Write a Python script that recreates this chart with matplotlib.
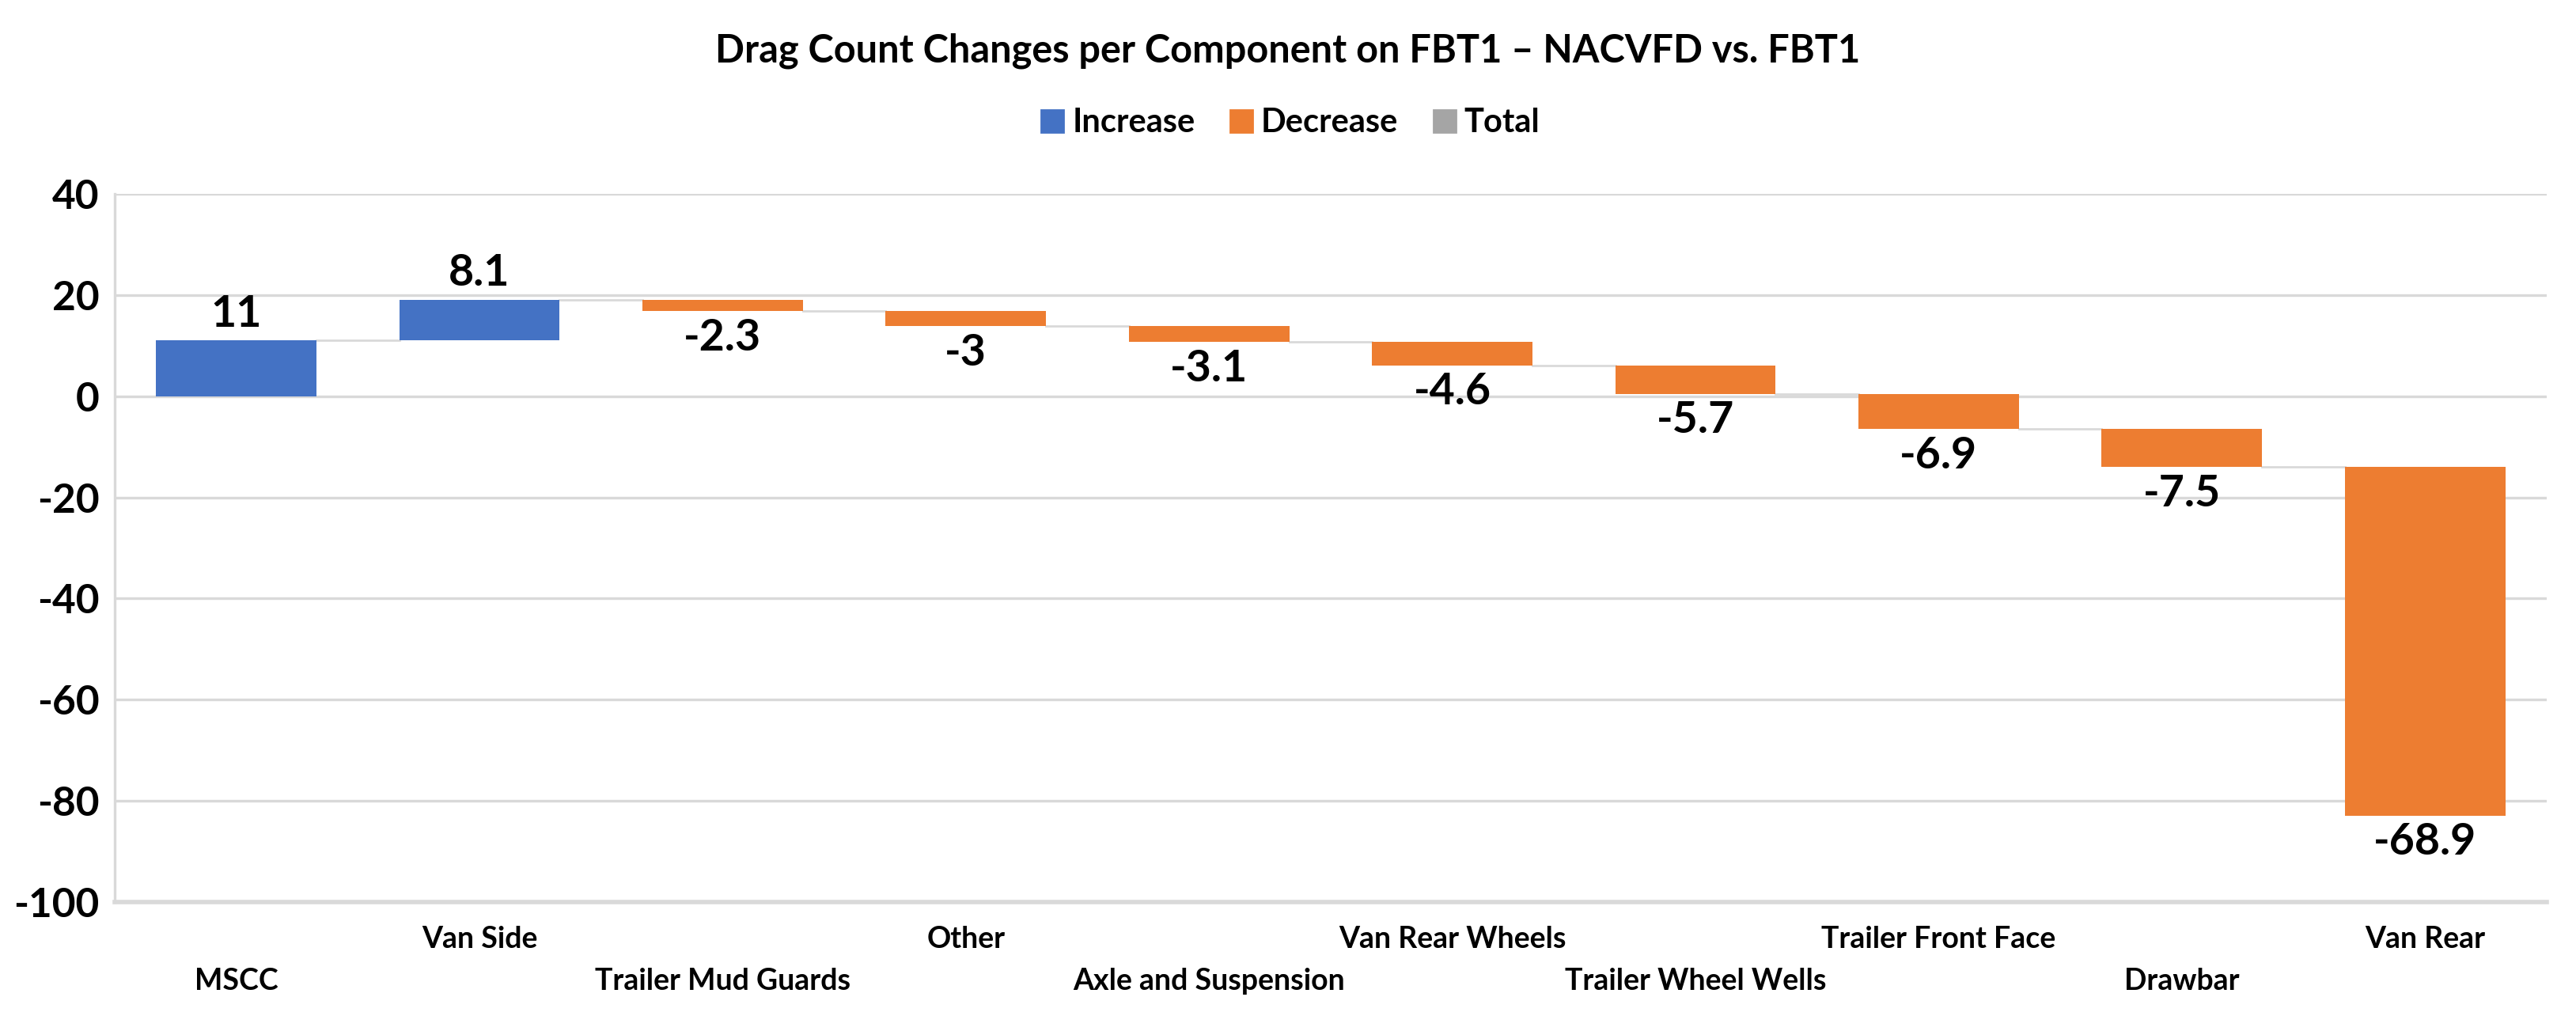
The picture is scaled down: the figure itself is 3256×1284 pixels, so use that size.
import numpy as np
import matplotlib.pyplot as plt
from matplotlib.lines import Line2D
from matplotlib.transforms import blended_transform_factory

categories = ['MSCC', 'Van Side', 'Trailer Mud Guards', 'Other', 'Axle and Suspension',
              'Van Rear Wheels', 'Trailer Wheel Wells', 'Trailer Front Face', 'Drawbar', 'Van Rear']
changes = [11, 8.1, -2.3, -3, -3.1, -4.6, -5.7, -6.9, -7.5, -68.9]
labels = ['11', '8.1', '-2.3', '-3', '-3.1', '-4.6', '-5.7', '-6.9', '-7.5', '-68.9']
yticks = [40, 20, 0, -20, -40, -60, -80, -100]

blue = '#4472C4'
orange = '#ED7D31'
gray = '#A5A5A5'
grid_c = '#D9D9D9'

plt.rcParams['font.family'] = ['Lato', 'DejaVu Sans']
plt.rcParams['font.weight'] = 'bold'

fig = plt.figure(figsize=(16.28, 6.42), dpi=200)
ax = fig.add_axes([0.0445, 0.1121, 0.9441, 0.6971])

vals = np.array(changes)
ends = np.cumsum(vals)
starts = ends - vals
x = np.arange(len(categories))
w = 0.66
colors = [blue if v > 0 else orange for v in vals]

ax.bar(x, vals, bottom=starts, width=w, color=colors, zorder=3)

# connector lines
for i in range(len(x) - 1):
    ax.plot([x[i] + w / 2, x[i + 1] - w / 2], [ends[i], ends[i]],
            color=grid_c, lw=1.0, zorder=2)

# value labels
for i in range(len(x)):
    if vals[i] > 0:
        ax.annotate(labels[i], (x[i], ends[i]), xytext=(0, 3), textcoords='offset points',
                    ha='center', va='bottom', fontsize=20, fontweight='bold')
    else:
        ax.annotate(labels[i], (x[i], ends[i]), xytext=(0, -3), textcoords='offset points',
                    ha='center', va='top', fontsize=20, fontweight='bold')

ax.set_xlim(-0.5, len(x) - 0.5)
ax.set_ylim(-100, 40)
ax.set_yticks(yticks)
ax.set_yticklabels([str(t) for t in yticks], fontsize=18.5, fontweight='bold')
ax.tick_params(axis='y', length=0, pad=7)
ax.set_xticks([])
ax.yaxis.grid(True, color=grid_c, lw=1.2, zorder=0)
ax.set_axisbelow(True)
for s in ['top', 'right']:
    ax.spines[s].set_visible(False)
ax.spines['left'].set_color(grid_c)
ax.spines['left'].set_linewidth(1.2)
ax.spines['bottom'].set_color(grid_c)
ax.spines['bottom'].set_linewidth(2.0)

# staggered category labels
tr = blended_transform_factory(ax.transData, ax.transAxes)
for i, c in enumerate(categories):
    off = -36 if i % 2 == 0 else -17
    ax.annotate(c, (x[i], 0), xycoords=tr, xytext=(0, off), textcoords='offset points',
                ha='center', va='center', fontsize=13.5, fontweight='bold')

fig.text(0.5, 0.95, 'Drag Count Changes per Component on FBT1 \u2013 NACVFD vs. FBT1',
         ha='center', va='center', fontsize=17.5, fontweight='bold')

handles = [Line2D([], [], marker='s', ls='', color=blue, markersize=10),
           Line2D([], [], marker='s', ls='', color=orange, markersize=10),
           Line2D([], [], marker='s', ls='', color=gray, markersize=10)]
fig.legend(handles, ['Increase', 'Decrease', 'Total'], loc='center', bbox_to_anchor=(0.5, 0.879),
           ncol=3, frameon=False, handletextpad=0.1, columnspacing=0.9,
           handlelength=1.0, prop={'weight': 'bold', 'size': 15})

fig.savefig('out.png', dpi=200)
